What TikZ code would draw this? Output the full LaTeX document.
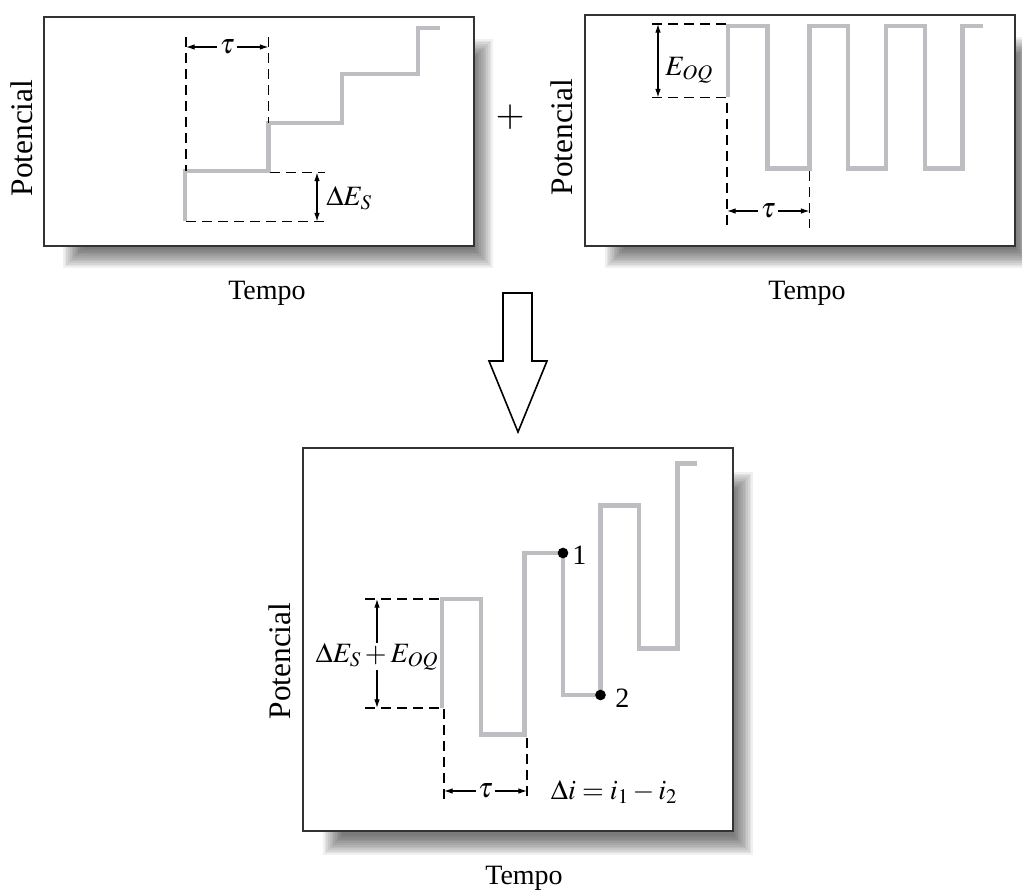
\documentclass[tikz,border=0pt]{standalone}
\usepackage{mathptmx}
\usepackage{fontspec}
\setmainfont{Liberation Serif}
\usetikzlibrary{arrows.meta}
\definecolor{wavegray}{HTML}{BDBEC1}
\definecolor{boxline}{HTML}{333333}
\newcommand\panelshadow[6]{%
  \foreach \i in {0,...,11}{%
    \fill[black,opacity=0.058] ({#1+#5+\i*1.7},{#2+#6+\i*1.7}) rectangle ({#3+#5-\i*1.7},{#4+#6-\i*1.7});
  }}
\tikzset{
  panel/.style={draw=boxline, line width=1.7pt, fill=white},
  wave/.style={draw=wavegray, line width=3.7pt},
  dashln/.style={black, line width=1.15pt, dash pattern=on 7.5pt off 4.5pt},
  dimarrow/.style={black, line width=0.9pt, {Latex[length=6.5pt,width=4.2pt]}-{Latex[length=6.5pt,width=4.2pt]}},
  lbl/.style={font=\fontsize{21}{25}\selectfont, inner sep=0pt},
  potlbl/.style={font=\fontsize{23.5}{27}\selectfont, inner sep=0pt, rotate=90},
  midlbl/.style={font=\fontsize{21}{25}\selectfont, fill=white, inner sep=2pt},
  dot/.style={circle, fill=black, inner sep=0pt, minimum size=8pt},
  bigarrow/.style={draw=black, line width=1.2pt, fill=white, line join=miter}
}
\begin{document}
\begin{tikzpicture}[x=0.75pt,y=-0.75pt]
\useasboundingbox (0,0) rectangle (1022,893);

% ---------- shadows and panels ----------
\panelshadow{44}{17}{474}{246}{19}{22}
\panelshadow{585}{15}{1015}{246}{20}{22}
\panelshadow{303}{448}{733}{831}{20}{24}
\draw[panel] (44,17) rectangle (474,246);
\draw[panel] (585,15) rectangle (1015,246);
\draw[panel] (303,448) rectangle (733,831);

% ---------- top-left panel: staircase ----------
\draw[wave] (185,221) -- (185,171) -- (268.5,171) -- (268.5,123) -- (342,123) -- (342,74) -- (418,74) -- (418,28) -- (440,28);
\coordinate (a1t) at (186,37);
\coordinate (a1b) at (186,171);
\coordinate (a2t) at (268.5,37);
\coordinate (a2b) at (268.5,123);
\draw[dashln] (a1t) -- (a1b);
\draw[dashln] (a2t) -- (a2b);
\coordinate (tauL1) at (186,47);
\coordinate (tauR1) at (268.5,47);
\draw[dimarrow] (tauL1) -- node[midlbl] (tau1) {$\tau$} (tauR1);
\coordinate (h1a) at (270,172.5);
\coordinate (h1b) at (325,172.5);
\coordinate (h2a) at (186,221.5);
\coordinate (h2b) at (325,221.5);
\draw[dashln] (h1a) -- (h1b);
\draw[dashln] (h2a) -- (h2b);
\coordinate (des1) at (317,172.5);
\coordinate (des2) at (317,221.5);
\draw[dimarrow] (des1) -- (des2);
\node[lbl, anchor=west] (desl) at (326,198) {$\Delta E_S$};
\node[potlbl] (pot1) at (22,138) {Potencial};
\node[lbl] (tempo1) at (267,293) {Tempo};

% ---------- plus sign ----------
\node[lbl, font=\fontsize{28}{30}\selectfont] (plus) at (510,117) {$+$};

% ---------- top-right panel: square wave ----------
\draw[wave] (728,97) -- (728,26) -- (767.5,26) -- (767.5,168.5) -- (809.5,168.5) -- (809.5,26) -- (848,26) -- (848,168.5) -- (886,168.5) -- (886,26) -- (925,26) -- (925,168.5) -- (962.5,168.5) -- (962.5,26) -- (983,26);
\coordinate (e1a) at (652,24);
\coordinate (e1b) at (726,24);
\coordinate (e2a) at (652,97.5);
\coordinate (e2b) at (727,97.5);
\coordinate (e2c) at (727,228);
\draw[dashln] (e1a) -- (e1b);
\draw[dashln] (e2a) -- (e2b) -- (e2c);
\coordinate (e3a) at (809.5,171);
\coordinate (e3b) at (809.5,228);
\draw[dashln] (e3a) -- (e3b);
\coordinate (eo1) at (658,24);
\coordinate (eo2) at (658,97.5);
\draw[dimarrow] (eo1) -- (eo2);
\node[lbl, anchor=west] (eoql) at (665,70) {$E_{OQ}$};
\coordinate (tauL2) at (727,211);
\coordinate (tauR2) at (809.5,211);
\draw[dimarrow] (tauL2) -- node[midlbl] (tau2) {$\tau$} (tauR2);
\node[potlbl] (pot2) at (562,137) {Potencial};
\node[lbl] (tempo2) at (807,293) {Tempo};

% ---------- big hollow arrow ----------
\draw[bigarrow] (503,293) -- (532,293) -- (532,361) -- (547,361) -- (518,432) -- (489,361) -- (503,361) -- cycle;

% ---------- bottom panel ----------
\draw[wave] (442,708) -- (442,599) -- (481,599) -- (481,734.5) -- (524.5,734.5) -- (524.5,553) -- (563,553) -- (563,695) -- (600.5,695) -- (600.5,505.5) -- (639,505.5) -- (639,648.5) -- (677.5,648.5) -- (677.5,463.5) -- (697,463.5);
\node[dot] (p1) at (563,553) {};
\node[dot] (p2) at (600.5,695) {};
\node[lbl, anchor=west] (p1l) at (572,555) {1};
\node[lbl, anchor=west] (p2l) at (615,698) {2};
\coordinate (b1a) at (365,599);
\coordinate (b1b) at (440,599);
\coordinate (b2a) at (365,708);
\coordinate (b2b) at (444,708);
\coordinate (b2c) at (444,801);
\draw[dashln] (b1a) -- (b1b);
\draw[dashln] (b2a) -- (b2b) -- (b2c);
\coordinate (b3a) at (527,738);
\coordinate (b3b) at (527,801);
\draw[dashln] (b3a) -- (b3b);
\coordinate (sum1) at (377,599);
\coordinate (sum2) at (377,708);
\draw[dimarrow] (sum1) -- node[midlbl, inner sep=0pt, pos=0.53] (suml) {$\Delta E_S + E_{OQ}$} (sum2);
\coordinate (tauL3) at (444,791);
\coordinate (tauR3) at (527,791);
\draw[dimarrow] (tauL3) -- node[midlbl] (tau3) {$\tau$} (tauR3);
\node[lbl] (dil) at (614,792) {$\Delta i = i_1 - i_2$};
\node[potlbl] (pot3) at (280,661) {Potencial};
\node[lbl] (tempo3) at (524,878) {Tempo};
\end{tikzpicture}
\end{document}
